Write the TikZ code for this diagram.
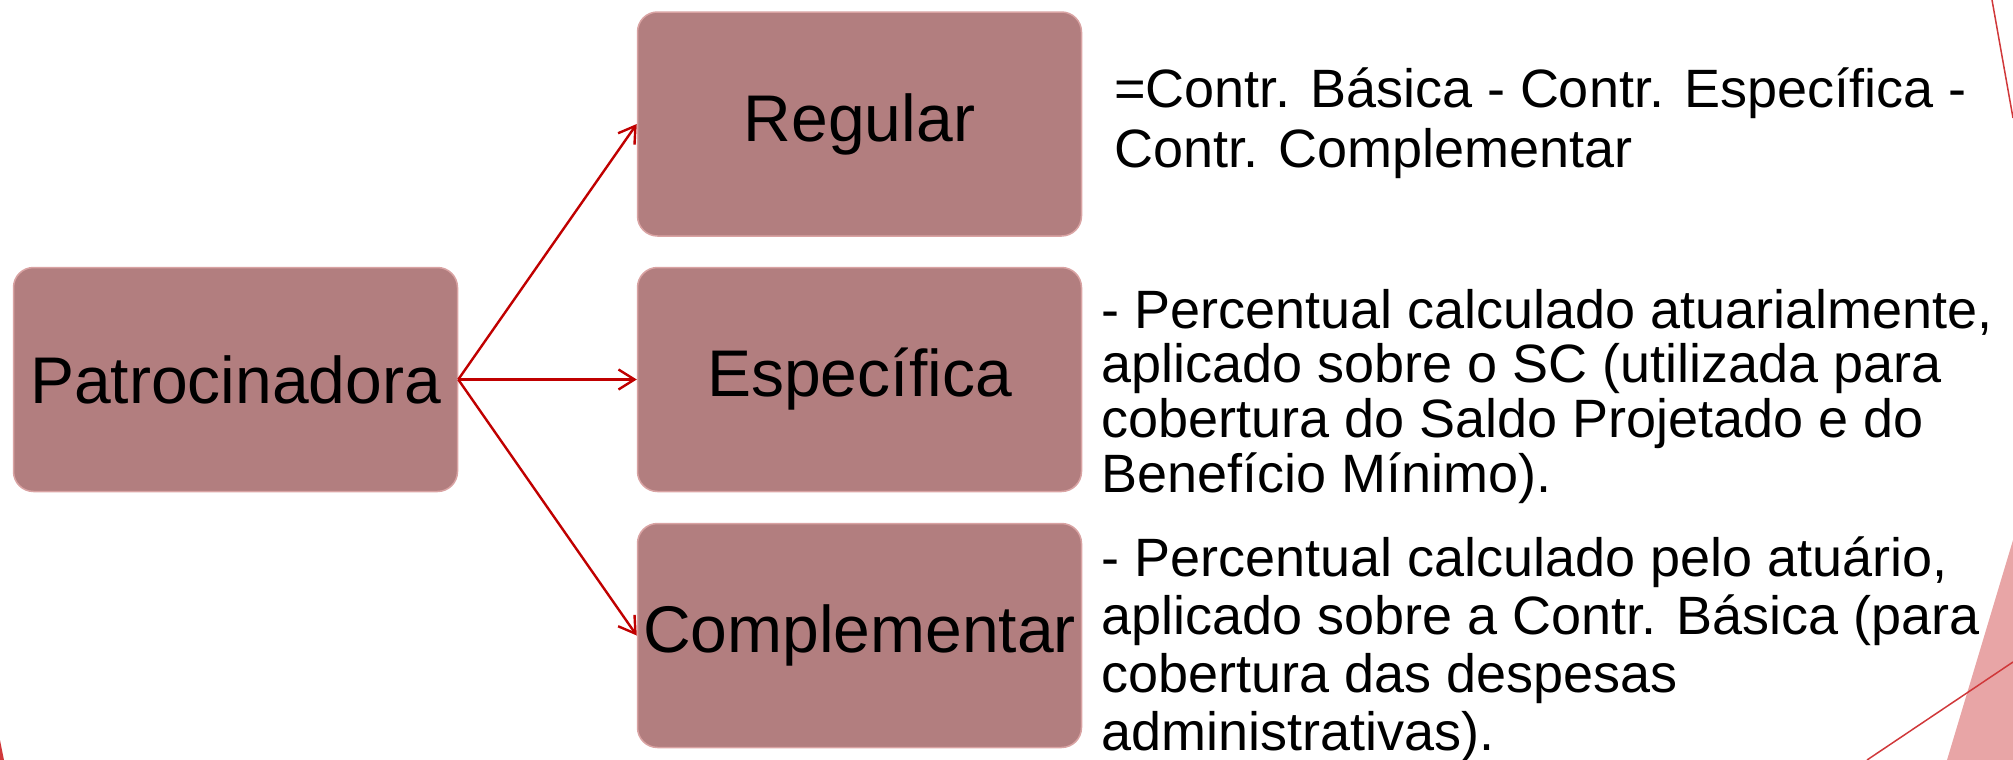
\documentclass[tikz,border=0pt]{standalone}
\usepackage{fontspec}
\setmainfont{Liberation Sans}
\usetikzlibrary{arrows.meta}
\definecolor{boxfill}{HTML}{B27E7F}
\definecolor{boxline}{HTML}{D9A3A3}
\definecolor{arrowred}{HTML}{C00000}
\definecolor{decored}{HTML}{D0383A}
\definecolor{decopink}{HTML}{E8A5A6}
\begin{document}
\begin{tikzpicture}[x=0.5pt,y=-0.5pt,
  catbox/.style={draw=boxline, line width=0.75pt, fill=boxfill, rounded corners=10pt,
    minimum width=222pt, minimum height=112pt, inner sep=0pt,
    font=\fontsize{33}{36}\selectfont},
  link/.style={draw=arrowred, line width=1.2pt, -{Straight Barb[length=8pt,width=10pt]}},
  desc/.style={anchor=base west, align=left, inner sep=0pt,
    font=\fontsize{27}{27.3}\selectfont},
  deco/.style={draw=decored, line width=0.75pt}]
\useasboundingbox (0,0) rectangle (2013,760);
% decorations
\fill[decopink] (1947,760) -- (2013,540) -- (2013,760) -- cycle;
\draw[deco] (1867,760) -- (2013,662);
\draw[deco] (1992,0) -- (2013,118);
\fill[decored] (0,740) -- (4,760) -- (0,760) -- cycle;
% boxes
\node[catbox] (pat) at (235.5,379.5) {Patrocinadora};
\node[catbox] (reg) at (859.5,124) {Regular};
\node[catbox] (esp) at (859.5,379.5) {Específica};
\node[catbox] (com) at (859.5,635.5) {Complementar};
% arrows
\draw[link] (pat.east) -- (reg.west);
\draw[link] (pat.east) -- (esp.west);
\draw[link] (pat.east) -- (com.west);
% descriptions (base anchor = baseline of the last line)
\node[desc, font=\fontsize{27}{30}\selectfont] (dreg) at (1114,167)
  {=Contr. Básica - Contr. Específica -\\Contr. Complementar};
\node[desc] (desp) at (1101,492)
  {- Percentual calculado atuarialmente,\\aplicado sobre o SC (utilizada para\\cobertura do Saldo Projetado e do\\Benefício Mínimo).};
\node[desc, font=\fontsize{27}{29}\selectfont] (dcom) at (1101,750)
  {- Percentual calculado pelo atuário,\\aplicado sobre a Contr. Básica (para\\cobertura das despesas\\administrativas).};
\end{tikzpicture}
\end{document}
